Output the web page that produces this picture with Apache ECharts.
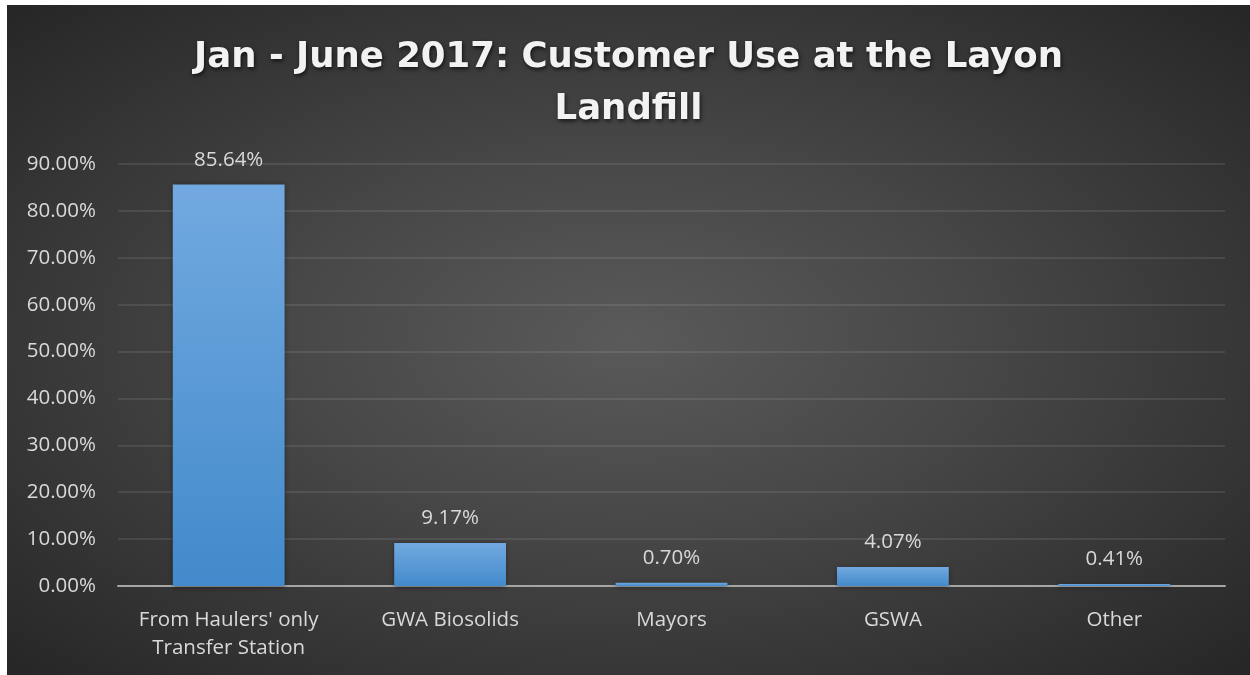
<!DOCTYPE html>
<html>
<head>
<meta charset="utf-8">
<script src="https://cdn.jsdelivr.net/npm/echarts@6/dist/echarts.min.js"></script>
<style>
  html, body { margin: 0; padding: 0; background: #ffffff; width: 1250px; height: 675px; overflow: hidden; }
  #chart { position: absolute; left: 7px; top: 5px; width: 1243px; height: 670px;
    background: radial-gradient(ellipse farthest-corner at 50% 50%, #5a5a5a 0%, #474747 40%, #262626 100%); }
</style>
</head>
<body>
<div id="chart"></div>
<script>
const titleLines = ["Jan - June 2017: Customer Use at the Layon", "Landfill"];
const categories = ["From Haulers' only\nTransfer Station", "GWA Biosolids", "Mayors", "GSWA", "Other"];
const values = [85.64, 9.17, 0.70, 4.07, 0.41];
const yTicks = { min: 0, max: 90, interval: 10 };

const chart = echarts.init(document.getElementById('chart'), null, { renderer: 'canvas' });
chart.setOption({
  backgroundColor: 'transparent',
  animation: false,
  title: {
    text: titleLines.join('\n'),
    left: 'center',
    top: 22,
    textStyle: {
      fontFamily: 'DejaVu Sans',
      fontWeight: 'bold',
      fontSize: 35.5,
      lineHeight: 52,
      color: '#f2f2f2',
      textShadowColor: 'rgba(0,0,0,0.7)',
      textShadowBlur: 4,
      textShadowOffsetX: 1,
      textShadowOffsetY: 2
    }
  },
  grid: { left: 111, right: 25, top: 159, bottom: 89, containLabel: false },
  xAxis: {
    type: 'category',
    data: categories,
    axisLine: { lineStyle: { color: '#a6a6a6', width: 2 } },
    axisTick: { show: false },
    axisLabel: { interval: 0, hideOverlap: false, color: '#d9d9d9', fontFamily: 'Open Sans',
      fontSize: 20.5, lineHeight: 28, margin: 20 }
  },
  yAxis: {
    type: 'value',
    min: yTicks.min, max: yTicks.max, interval: yTicks.interval,
    axisLine: { show: false },
    axisTick: { show: false },
    splitLine: { lineStyle: { color: 'rgba(255,255,255,0.12)', width: 1.5 } },
    axisLabel: { color: '#d9d9d9', fontFamily: 'Open Sans', fontSize: 20.5, margin: 22,
      formatter: v => v.toFixed(2) + '%' }
  },
  series: [{
    type: 'bar',
    data: values,
    barWidth: '50.5%',
    itemStyle: {
      color: new echarts.graphic.LinearGradient(0, 0, 0, 1, [
        { offset: 0, color: '#72a9e0' },
        { offset: 1, color: '#428acb' }
      ]),
      shadowColor: 'rgba(0,0,0,0.45)',
      shadowBlur: 5,
      shadowOffsetY: 1
    },
    label: {
      show: true, position: 'top', distance: 14,
      color: '#d9d9d9', fontFamily: 'Open Sans', fontSize: 20.5,
      formatter: p => p.value.toFixed(2) + '%'
    }
  }]
});
</script>
</body>
</html>
